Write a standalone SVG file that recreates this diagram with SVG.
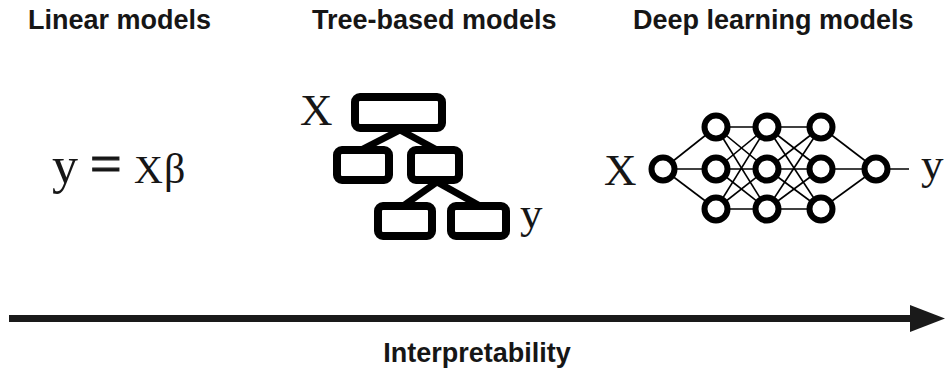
<svg xmlns="http://www.w3.org/2000/svg" width="946" height="369" viewBox="0 0 946 369">
<style>
.title{font-family:"Liberation Sans",Arial,sans-serif;font-weight:bold;font-size:27px;fill:#161616}
.math{font-family:"Liberation Serif","Times New Roman",serif;font-size:45px;fill:#161616}
.box{fill:#fff;stroke:#000;stroke-width:8}
.tedge{stroke:#000;stroke-width:7;fill:none}
.nedge{stroke:#000;stroke-width:1.6;fill:none}
.neuron{fill:#fff;stroke:#000;stroke-width:6}
</style>
<defs>
<marker id="ah" viewBox="0 0 35 27" refX="0" refY="13.5" markerWidth="35" markerHeight="27" markerUnits="userSpaceOnUse" orient="auto">
<path d="M0,0 L35,13.5 L0,27 Z" fill="#1a1a1a"/>
</marker>
</defs>
<rect width="946" height="369" fill="#fff"/>

<g id="titles">
<text class="title" x="28" y="29">Linear models</text>
<text class="title" x="312" y="29">Tree-based models</text>
<text class="title" x="633" y="29">Deep learning models</text>
</g>

<g id="linear-equation">
<text class="math" y="183" font-size="40"><tspan x="52" font-size="52">y</tspan><tspan x="90" font-size="56" stroke="#161616" stroke-width="1.2">=</tspan><tspan x="134" font-size="40">X</tspan><tspan x="164" font-size="42">β</tspan></text>
</g>

<g id="connectors">
<line class="tedge" x1="400" y1="130" x2="361" y2="150"/>
<line class="tedge" x1="400" y1="130" x2="437" y2="150"/>
<line class="tedge" x1="437" y1="182" x2="403" y2="206"/>
<line class="tedge" x1="437" y1="182" x2="480" y2="206"/>
<g id="nn-edges">
<line class="nedge" x1="663" y1="169" x2="716" y2="127"/>
<line class="nedge" x1="663" y1="169" x2="716" y2="169"/>
<line class="nedge" x1="663" y1="169" x2="716" y2="209"/>
<line class="nedge" x1="716" y1="127" x2="767" y2="127"/>
<line class="nedge" x1="716" y1="127" x2="767" y2="169"/>
<line class="nedge" x1="716" y1="127" x2="767" y2="209"/>
<line class="nedge" x1="716" y1="169" x2="767" y2="127"/>
<line class="nedge" x1="716" y1="169" x2="767" y2="169"/>
<line class="nedge" x1="716" y1="169" x2="767" y2="209"/>
<line class="nedge" x1="716" y1="209" x2="767" y2="127"/>
<line class="nedge" x1="716" y1="209" x2="767" y2="169"/>
<line class="nedge" x1="716" y1="209" x2="767" y2="209"/>
<line class="nedge" x1="767" y1="127" x2="821" y2="127"/>
<line class="nedge" x1="767" y1="127" x2="821" y2="169"/>
<line class="nedge" x1="767" y1="127" x2="821" y2="209"/>
<line class="nedge" x1="767" y1="169" x2="821" y2="127"/>
<line class="nedge" x1="767" y1="169" x2="821" y2="169"/>
<line class="nedge" x1="767" y1="169" x2="821" y2="209"/>
<line class="nedge" x1="767" y1="209" x2="821" y2="127"/>
<line class="nedge" x1="767" y1="209" x2="821" y2="169"/>
<line class="nedge" x1="767" y1="209" x2="821" y2="209"/>
<line class="nedge" x1="821" y1="127" x2="876" y2="169"/>
<line class="nedge" x1="821" y1="169" x2="876" y2="169"/>
<line class="nedge" x1="821" y1="209" x2="876" y2="169"/>
<line class="nedge" x1="876" y1="169" x2="909" y2="169"/>
</g>
<line id="axis" x1="9" y1="318.5" x2="910" y2="318.5" stroke="#1a1a1a" stroke-width="7" marker-end="url(#ah)"/>
</g>

<g id="tree">
<text class="math" x="300" y="125">X</text>
<rect id="t-root" class="box" x="355" y="97" width="87" height="31" rx="5"/>
<rect id="t-left" class="box" x="337" y="150" width="52" height="30" rx="5"/>
<rect id="t-right" class="box" x="411" y="150" width="48" height="30" rx="5"/>
<rect id="t-rl" class="box" x="378" y="206" width="54" height="30" rx="5"/>
<rect id="t-rr" class="box" x="451" y="206" width="55" height="30" rx="5"/>
<text class="math" x="520" y="228" font-size="52">y</text>
</g>

<g id="neural-net">
<text class="math" x="604" y="185">X</text>
<circle id="n-in" class="neuron" cx="663" cy="169" r="11.5"/>
<circle id="n-1a" class="neuron" cx="716" cy="127" r="11.5"/>
<circle id="n-1b" class="neuron" cx="716" cy="169" r="11.5"/>
<circle id="n-1c" class="neuron" cx="716" cy="209" r="11.5"/>
<circle id="n-2a" class="neuron" cx="767" cy="127" r="11.5"/>
<circle id="n-2b" class="neuron" cx="767" cy="169" r="11.5"/>
<circle id="n-2c" class="neuron" cx="767" cy="209" r="11.5"/>
<circle id="n-3a" class="neuron" cx="821" cy="127" r="11.5"/>
<circle id="n-3b" class="neuron" cx="821" cy="169" r="11.5"/>
<circle id="n-3c" class="neuron" cx="821" cy="209" r="11.5"/>
<circle id="n-out" class="neuron" cx="876" cy="169" r="11.5"/>
<text class="math" x="921" y="179" font-size="52">y</text>
</g>

<g id="axis-label">
<text class="title" x="477" y="362" text-anchor="middle">Interpretability</text>
</g>
</svg>
